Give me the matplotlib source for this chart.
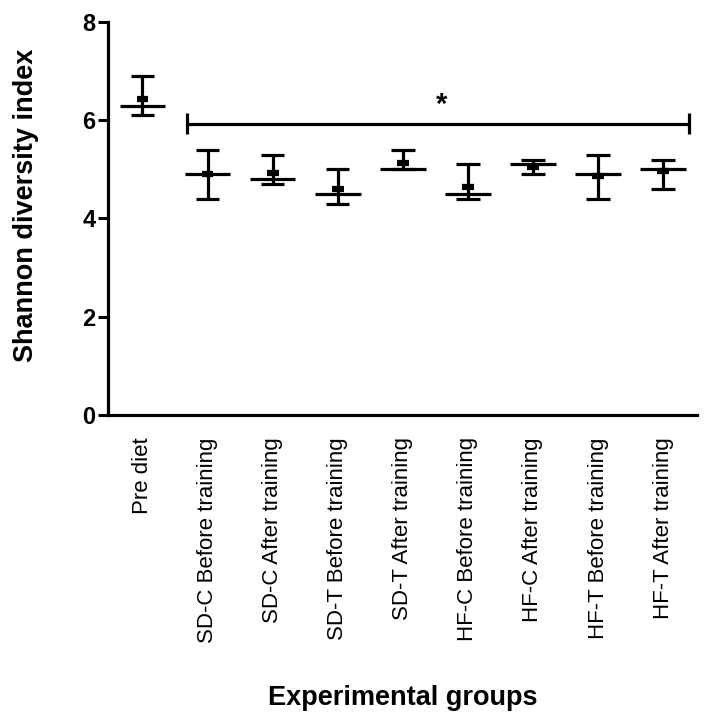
import matplotlib
matplotlib.use("Agg")
import matplotlib.pyplot as plt
import numpy as np

plt.rcParams['font.family'] = ['Liberation Sans', 'DejaVu Sans']

groups = ["Pre diet", "SD-C Before training", "SD-C After training",
          "SD-T Before training", "SD-T After training", "HF-C Before training",
          "HF-C After training", "HF-T Before training", "HF-T After training"]
median = [6.3, 4.9, 4.8, 4.5, 5.0, 4.5, 5.1, 4.9, 5.0]
mean = [6.43, 4.91, 4.93, 4.60, 5.13, 4.65, 5.05, 4.87, 4.97]
low = [6.1, 4.4, 4.7, 4.3, 5.0, 4.4, 4.9, 4.4, 4.6]
high = [6.9, 5.4, 5.3, 5.0, 5.4, 5.1, 5.2, 5.3, 5.2]
yticks = [0, 2, 4, 6, 8]
sig_level = 5.93
sig_label = "*"

fig = plt.figure(figsize=(7.09, 7.19), dpi=100)
ax = fig.add_axes([108/709, 1-415/719, 589/709, 393/719])

x = np.arange(len(groups))
lw = 2.3
ax.vlines(x, low, high, color='black', lw=lw)
ax.hlines(median, x-0.35, x+0.35, color='black', lw=lw)
ax.hlines(low, x-0.18, x+0.18, color='black', lw=lw)
ax.hlines(high, x-0.18, x+0.18, color='black', lw=lw)
ax.hlines(mean, x-0.09, x+0.09, color='black', lw=4.5)

# significance bracket
bx0, bx1 = 0.68, 8.4
ax.hlines(sig_level, bx0, bx1, color='black', lw=lw)
ax.vlines([bx0, bx1], sig_level-0.22, sig_level+0.22, color='black', lw=lw)
ax.text(4.6, sig_level+0.22, sig_label, ha='center', va='baseline',
        fontsize=21, fontweight='bold')

ax.set_xlim(-0.53, 8.52)
ax.set_ylim(0, 8)
ax.set_yticks(yticks)
ax.set_yticklabels([str(t) for t in yticks], fontsize=17, fontweight='bold')
ax.set_xticks(x)
ax.set_xticklabels(groups, rotation=90, fontsize=16, va='top', ha='center')
ax.tick_params(axis='x', length=0, pad=16)
ax.tick_params(axis='y', length=7, width=2.2, pad=2)

for s in ['top', 'right']:
    ax.spines[s].set_visible(False)
for s in ['left', 'bottom']:
    ax.spines[s].set_linewidth(2.3)

ax.set_ylabel("Shannon diversity index", fontsize=19.5, fontweight='bold', va='center')
ax.yaxis.set_label_coords(-0.139, 0.534)
ax.set_xlabel("Experimental groups", fontsize=19.5, fontweight='bold', va='center')
ax.xaxis.set_label_coords(0.501, -0.720)

fig.savefig("out.png", dpi=100)
